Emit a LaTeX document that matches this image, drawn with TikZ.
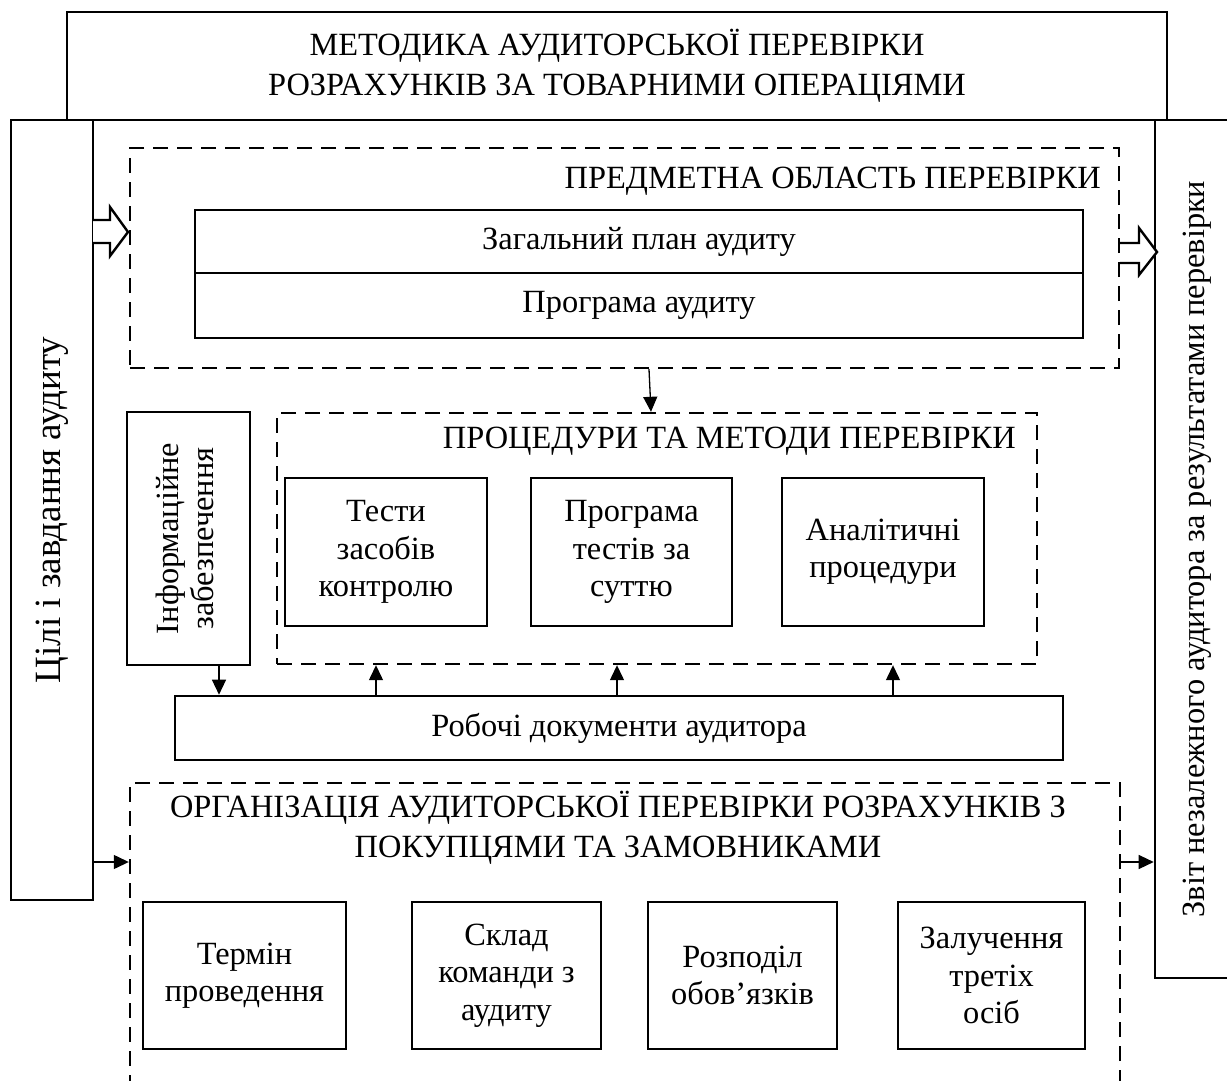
\documentclass[tikz,border=0pt]{standalone}
\usepackage{fontspec}
\setmainfont{Liberation Serif}
\usetikzlibrary{arrows.meta,calc}
\tikzset{
  box/.style={draw, line width=2.6pt, rectangle, inner sep=0pt, align=center},
  dbox/.style={draw, line width=2.4pt, rectangle, inner sep=0pt, dash pattern=on 15pt off 9pt},
  arr/.style={line width=1.3pt, -{Triangle[length=15pt,width=14pt]}},
  hollow/.style={draw, line width=2.4pt, fill=white, line join=miter},
  lbl/.style={inner sep=0pt, align=center},
  every node/.style={font=\fontsize{32.4}{37.5}\selectfont}
}
\begin{document}
\begin{tikzpicture}[x=1pt,y=-1pt]
\useasboundingbox (0,0) rectangle (1227,1081);
\fill[white] (0,0) rectangle (1227,1081);

% top title box
\node[box, minimum width=1100, minimum height=108] (title) at (617,66)
  {МЕТОДИКА АУДИТОРСЬКОЇ ПЕРЕВІРКИ\\[2pt]РОЗРАХУНКІВ ЗА ТОВАРНИМИ ОПЕРАЦІЯМИ};

% left goals box
\node[box, minimum width=82, minimum height=780] (goals) at (52,510)
  {\rotatebox{90}{\fontsize{37}{42}\selectfont Цілі і завдання аудиту}};

% right report box
\node[box, minimum width=84, minimum height=858] (report) at (1197,549)
  {\rotatebox{90}{Звіт незалежного аудитора за результатами перевірки}};

% subject area
\node[dbox, minimum width=989, minimum height=220] (subj) at (624.5,258) {};
\node[lbl, anchor=east] (subjl) at (1101,181) {ПРЕДМЕТНА ОБЛАСТЬ ПЕРЕВІРКИ};
\node[box, minimum width=888, minimum height=63] (plan) at (639,241.5) {Загальний план аудиту};
\node[box, minimum width=888, minimum height=65] (prog) at (639,305.5) {Програма аудиту};

% info box
\node[box, minimum width=123, minimum height=253] (info) at (188.5,538.5)
  {\rotatebox{90}{\begin{tabular}{@{}c@{}}Інформаційне\\[-3pt]забезпечення\end{tabular}}};

% procedures
\node[dbox, minimum width=760, minimum height=251] (proc) at (657,538.5) {};
\node[lbl, anchor=east] (procl) at (1016,441) {ПРОЦЕДУРИ ТА МЕТОДИ ПЕРЕВІРКИ};
\node[box, minimum width=202, minimum height=148] (t1) at (386,552) {Тести\\засобів\\контролю};
\node[box, minimum width=201, minimum height=148] (t2) at (631.5,552) {Програма\\тестів за\\суттю};
\node[box, minimum width=202, minimum height=148] (t3) at (883,552) {Аналітичні\\процедури};

% working documents
\node[box, minimum width=888, minimum height=64] (work) at (619,728) {Робочі документи аудитора};

% organisation (open at the bottom edge)
\node[dbox, minimum width=990, minimum height=320] (org) at (625,943) {};
\node[lbl] (orgl) at (618,828) {ОРГАНІЗАЦІЯ АУДИТОРСЬКОЇ ПЕРЕВІРКИ РОЗРАХУНКІВ З\\[2pt]ПОКУПЦЯМИ ТА ЗАМОВНИКАМИ};
\node[box, minimum width=203, minimum height=147] (b1) at (244.5,975.5) {Термін\\проведення};
\node[box, minimum width=189, minimum height=147] (b2) at (506.5,975.5) {Склад\\команди з\\аудиту};
\node[box, minimum width=189, minimum height=147] (b3) at (742.5,975.5) {Розподіл\\обов’язків};
\node[box, minimum width=187, minimum height=147] (b4) at (991.5,975.5) {Залучення\\третіх\\осіб};

% hollow arrows
\draw[hollow] (93,220) -- (110,220) -- (110,207) -- (128,232) -- (110,256) -- (110,243) -- (93,243);
\draw[hollow] (1120,243) -- (1139,243) -- (1139,228) -- (1157,252) -- (1139,275) -- (1139,263) -- (1120,263);

% coordinates for connectors
\coordinate (c376) at (376,0);
\coordinate (c617) at (617,0);
\coordinate (c893) at (893,0);
\coordinate (c219) at (219,0);
\coordinate (y862) at (0,862);

% arrows
\draw[arr] ([xshift=24.5pt]subj.south) -- ([xshift=-6pt]proc.north);
\draw[arr] (info.south -| c219) -- (work.north -| c219);
\draw[arr] (work.north -| c376) -- (proc.south -| c376);
\draw[arr] (work.north -| c617) -- (proc.south -| c617);
\draw[arr] (work.north -| c893) -- (proc.south -| c893);
\draw[arr] (goals.east |- y862) -- (org.west |- y862);
\draw[arr] (org.east |- y862) -- (report.west |- y862);
\end{tikzpicture}
\end{document}
